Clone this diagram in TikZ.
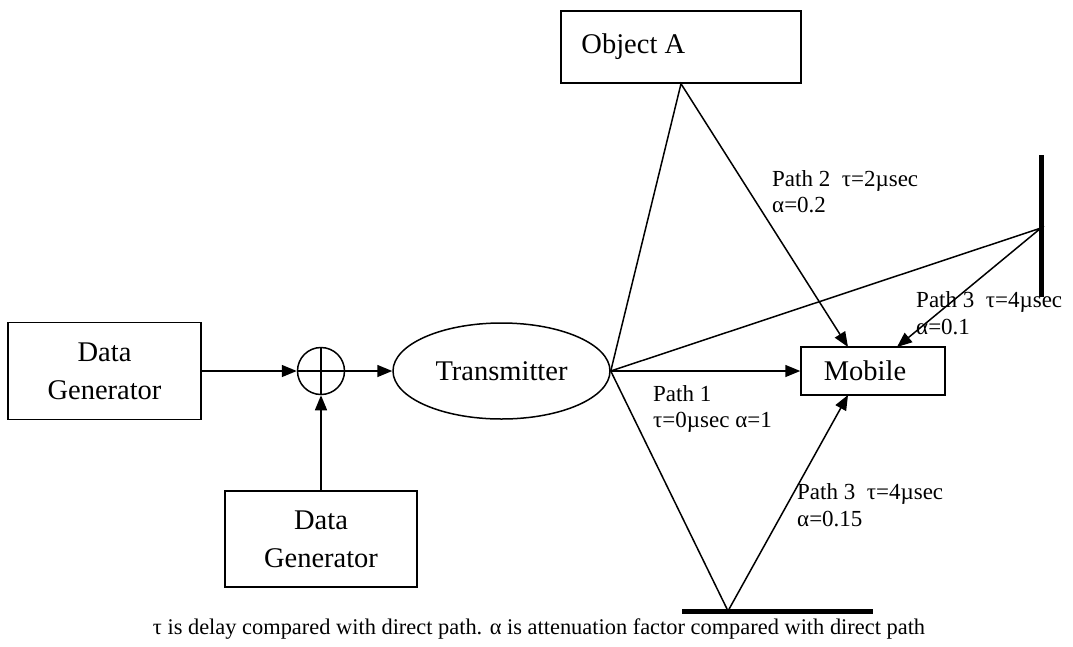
\documentclass[tikz,border=0pt]{standalone}
\usepackage{fontspec}
\setmainfont{Liberation Serif}
\usetikzlibrary{arrows.meta,shapes.geometric}

\tikzset{
  blk/.style={draw, line width=1.5pt, inner sep=0pt, align=center,
    font=\fontsize{28.5}{38}\selectfont},
  wire/.style={line width=1.5pt},
  arr/.style={wire, -{Triangle[length=15pt,width=12pt]}},
  wall/.style={line width=5pt},
  lbl/.style={inner sep=0pt, anchor=west, align=left,
    font=\fontsize{23}{26.5}\selectfont},
}

\begin{document}
\begin{tikzpicture}[x=1pt,y=-1pt]
  \useasboundingbox (0,0) rectangle (1073,646);

  % signal chain
  \node[blk, minimum width=193pt, minimum height=97pt] (dg1) at (104.5,371) {Data\\Generator};
  \node[blk, minimum width=192pt, minimum height=96pt] (dg2) at (321,539) {Data\\Generator};
  \node[draw, circle, line width=1.5pt, minimum size=47pt, inner sep=0pt] (sum) at (321,371) {};
  \draw[wire] (sum.north) -- (sum.south) (sum.west) -- (sum.east);
  \node[blk, ellipse, minimum width=217pt, minimum height=96pt] (tx) at (501.5,371) {Transmitter};

  % scatterers and receiver
  \node[blk, minimum width=240pt, minimum height=72pt,
        label={[anchor=west, inner sep=0pt, font=\fontsize{28.5}{38}\selectfont]west:{\hspace*{21pt}Object A}}]
        (objA) at (681,47) {};
  \node[blk, minimum width=144pt, minimum height=48pt] (mob) at (873,371) {\hspace*{-16pt}Mobile};

  % reflecting surfaces
  \coordinate (wt) at (1041,155);
  \coordinate (wb) at (1041,297);
  \coordinate (rw) at (1041,228);
  \draw[wall] (wt) -- (wb);
  \coordinate (gl) at (682,611);
  \coordinate (gr) at (873,611);
  \coordinate (rg) at (728,611);
  \draw[wall] (gl) -- (gr);

  % arrival points on the mobile
  \coordinate (m2) at (848,347);
  \coordinate (m3) at (897,347);
  \coordinate (m4) at (848,395);

  % connectors
  \draw[arr] (dg1.east) -- (sum.west);
  \draw[arr] (dg2.north) -- (sum.south);
  \draw[arr] (sum.east) -- (tx.west);
  \draw[arr] (tx.east) -- (mob.west);
  \draw[arr] (tx.east) -- (objA.south) -- (m2);
  \draw[arr] (tx.east) -- (rw) -- (m3);
  \draw[arr] (tx.east) -- (rg) -- (m4);

  % path labels
  \node[lbl] (l2) at (772,191.5) {Path 2~ τ=2µsec\\α=0.2};
  \node[lbl] (l3a) at (916,313) {Path 3~ τ=4µsec\\α=0.1};
  \node[lbl] (l1) at (653,409) {Path 1\\τ=0µsec α=1};
  \node[lbl] (l3b) at (797,505) {Path 3~ τ=4µsec\\α=0.15};

  % caption
  \node[inner sep=0pt, font=\fontsize{22.4}{26}\selectfont] (cap) at (539,629)
    {τ is delay compared with direct path. α is attenuation factor compared with direct path};
\end{tikzpicture}
\end{document}
